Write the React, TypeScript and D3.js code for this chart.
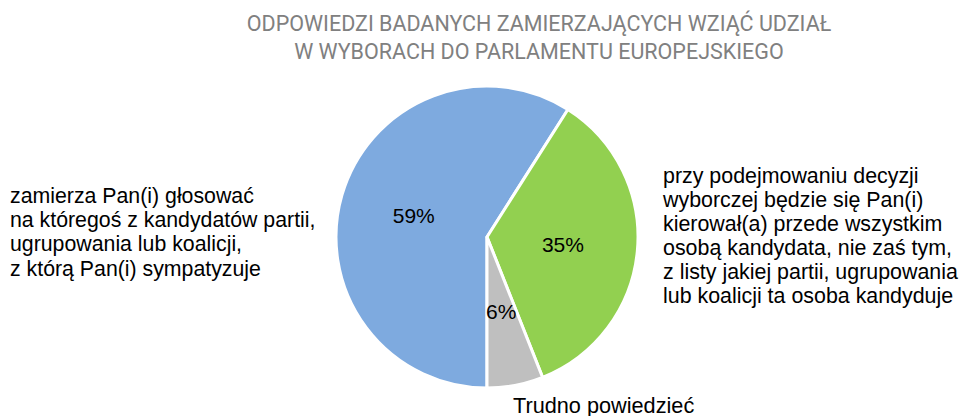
import React from "react";
import * as d3 from "d3";

const categories = [
  "zamierza Pan(i) głosować na któregoś z kandydatów partii, ugrupowania lub koalicji, z którą Pan(i) sympatyzuje",
  "przy podejmowaniu decyzji wyborczej będzie się Pan(i) kierował(a) przede wszystkim osobą kandydata, nie zaś tym, z listy jakiej partii, ugrupowania lub koalicji ta osoba kandyduje",
  "Trudno powiedzieć",
];
const values = [59, 35, 6];
const colors = ["#7EAADF", "#92D050", "#BFBFBF"];
const categoryLines = [
  ["zamierza Pan(i) głosować", "na któregoś z kandydatów partii,", "ugrupowania lub koalicji,", "z którą Pan(i) sympatyzuje"],
  ["przy podejmowaniu decyzji", "wyborczej będzie się Pan(i)", "kierował(a) przede wszystkim", "osobą kandydata, nie zaś tym,", "z listy jakiej partii, ugrupowania", "lub koalicji ta osoba kandyduje"],
  ["Trudno powiedzieć"],
];
const titleLines = ["ODPOWIEDZI BADANYCH ZAMIERZAJĄCYCH WZIĄĆ UDZIAŁ", "W WYBORACH DO PARLAMENTU EUROPEJSKIEGO"];

export default function App() {
  const W = 960, H = 416;
  const cx = 487, cy = 237, r = 151;
  const pie = d3.pie<number>().sort(null).startAngle(Math.PI).endAngle(3 * Math.PI);
  const arcs = pie(values);
  const arc = d3.arc<d3.PieArcDatum<number>>().innerRadius(0).outerRadius(r);
  const labelArc = d3.arc<d3.PieArcDatum<number>>().innerRadius(r * 0.505).outerRadius(r * 0.505);
  const catPos = [
    { x: 10, y: 203, dy: 24.2, fs: 21.3 },
    { x: 663, y: 183, dy: 24, fs: 21.4 },
    { x: 513, y: 413, dy: 24, fs: 21.7 },
  ];
  return (
    <svg width={W} height={H} style={{ position: "absolute", left: 0, top: 0 }}>
      <rect width={W} height={H} fill="#fff" />
      {titleLines.map((t, i) => (
        <text key={i} x={539} y={31 + i * 27.5} textAnchor="middle" fontFamily="Roboto" fontSize={21.5} fill="#808080">
          {t}
        </text>
      ))}
      <g transform={`translate(${cx},${cy})`}>
        {arcs.map((a, i) => (
          <path key={i} d={arc(a) || ""} fill={colors[i]} stroke="#fff" strokeWidth={3} strokeLinejoin="round" />
        ))}
        {arcs.map((a, i) => {
          const [lx, ly] = labelArc.centroid(a);
          return (
            <text key={i} x={lx} y={ly} textAnchor="middle" dominantBaseline="central"
              fontFamily="Liberation Sans" fontSize={21} fill="#000">
              {values[i]}%
            </text>
          );
        })}
      </g>
      {categoryLines.map((lines, i) => (
        <text key={i} fontFamily="Liberation Sans" fontSize={catPos[i].fs} fill="#000">
          {lines.map((l, j) => (
            <tspan key={j} x={catPos[i].x} y={catPos[i].y + j * catPos[i].dy}>{l}</tspan>
          ))}
        </text>
      ))}
    </svg>
  );
}
